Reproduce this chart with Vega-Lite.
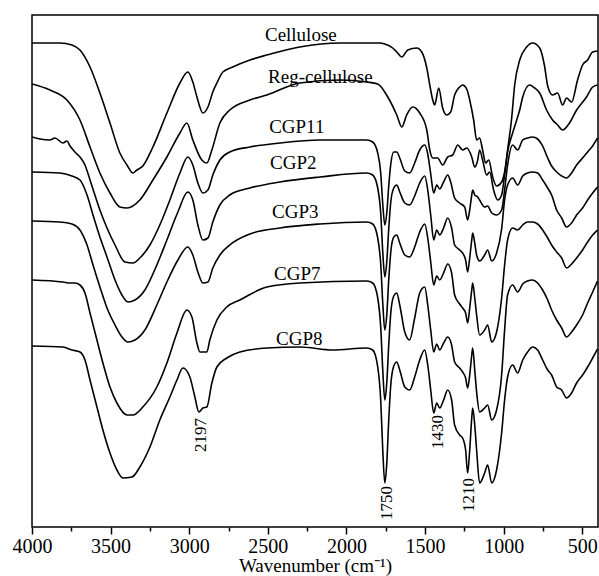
{
"$schema": "https://vega.github.io/schema/vega-lite/v6.json",
"width": 566, "height": 512,
"autosize": {"type": "none"},
"padding": {"left": 32, "top": 15, "right": 1, "bottom": 49},
"background": "white",
"config": {"view": {"stroke": "black", "strokeWidth": 1.5}, "font": "Liberation Serif"},
"datasets": {
"spectra": [
{"s":"Cellulose","w":4000,"t":484},{"s":"Cellulose","w":3822,"t":484},{"s":"Cellulose","w":3746,"t":482},{"s":"Cellulose","w":3695,"t":477},{"s":"Cellulose","w":3631,"t":460},{"s":"Cellulose","w":3568,"t":434},{"s":"Cellulose","w":3504,"t":404},{"s":"Cellulose","w":3441,"t":374},{"s":"Cellulose","w":3396,"t":362},{"s":"Cellulose","w":3358,"t":354},{"s":"Cellulose","w":3333,"t":357},{"s":"Cellulose","w":3295,"t":361},{"s":"Cellulose","w":3231,"t":380},{"s":"Cellulose","w":3142,"t":414},{"s":"Cellulose","w":3059,"t":444},{"s":"Cellulose","w":3009,"t":455},{"s":"Cellulose","w":2977,"t":445},{"s":"Cellulose","w":2951,"t":430},{"s":"Cellulose","w":2913,"t":414},{"s":"Cellulose","w":2881,"t":420},{"s":"Cellulose","w":2850,"t":435},{"s":"Cellulose","w":2824,"t":444},{"s":"Cellulose","w":2786,"t":455},{"s":"Cellulose","w":2723,"t":460},{"s":"Cellulose","w":2614,"t":467},{"s":"Cellulose","w":2506,"t":472},{"s":"Cellulose","w":2297,"t":480},{"s":"Cellulose","w":2042,"t":484},{"s":"Cellulose","w":1788,"t":484},{"s":"Cellulose","w":1756,"t":483},{"s":"Cellulose","w":1706,"t":479},{"s":"Cellulose","w":1680,"t":475},{"s":"Cellulose","w":1648,"t":470},{"s":"Cellulose","w":1610,"t":477},{"s":"Cellulose","w":1553,"t":479},{"s":"Cellulose","w":1521,"t":475},{"s":"Cellulose","w":1489,"t":459},{"s":"Cellulose","w":1470,"t":442},{"s":"Cellulose","w":1451,"t":427},{"s":"Cellulose","w":1439,"t":422},{"s":"Cellulose","w":1413,"t":439},{"s":"Cellulose","w":1388,"t":419},{"s":"Cellulose","w":1362,"t":412},{"s":"Cellulose","w":1337,"t":415},{"s":"Cellulose","w":1312,"t":432},{"s":"Cellulose","w":1280,"t":440},{"s":"Cellulose","w":1261,"t":442},{"s":"Cellulose","w":1235,"t":438},{"s":"Cellulose","w":1216,"t":427},{"s":"Cellulose","w":1191,"t":407},{"s":"Cellulose","w":1172,"t":387},{"s":"Cellulose","w":1153,"t":389},{"s":"Cellulose","w":1134,"t":377},{"s":"Cellulose","w":1115,"t":364},{"s":"Cellulose","w":1095,"t":367},{"s":"Cellulose","w":1070,"t":350},{"s":"Cellulose","w":1045,"t":341},{"s":"Cellulose","w":1013,"t":345},{"s":"Cellulose","w":994,"t":355},{"s":"Cellulose","w":975,"t":377},{"s":"Cellulose","w":949,"t":409},{"s":"Cellulose","w":930,"t":442},{"s":"Cellulose","w":898,"t":467},{"s":"Cellulose","w":854,"t":480},{"s":"Cellulose","w":816,"t":484},{"s":"Cellulose","w":771,"t":479},{"s":"Cellulose","w":740,"t":461},{"s":"Cellulose","w":720,"t":441},{"s":"Cellulose","w":689,"t":432},{"s":"Cellulose","w":657,"t":434},{"s":"Cellulose","w":625,"t":422},{"s":"Cellulose","w":600,"t":429},{"s":"Cellulose","w":568,"t":425},{"s":"Cellulose","w":530,"t":447},{"s":"Cellulose","w":498,"t":462},{"s":"Cellulose","w":466,"t":467},{"s":"Cellulose","w":434,"t":475},{"s":"Cellulose","w":403,"t":476},
{"s":"Reg-cellulose","w":4000,"t":443},{"s":"Reg-cellulose","w":3886,"t":437},{"s":"Reg-cellulose","w":3778,"t":427},{"s":"Reg-cellulose","w":3695,"t":407},{"s":"Reg-cellulose","w":3631,"t":380},{"s":"Reg-cellulose","w":3568,"t":354},{"s":"Reg-cellulose","w":3504,"t":334},{"s":"Reg-cellulose","w":3441,"t":320},{"s":"Reg-cellulose","w":3396,"t":319},{"s":"Reg-cellulose","w":3314,"t":327},{"s":"Reg-cellulose","w":3231,"t":347},{"s":"Reg-cellulose","w":3142,"t":370},{"s":"Reg-cellulose","w":3059,"t":394},{"s":"Reg-cellulose","w":3015,"t":404},{"s":"Reg-cellulose","w":2977,"t":387},{"s":"Reg-cellulose","w":2920,"t":367},{"s":"Reg-cellulose","w":2888,"t":364},{"s":"Reg-cellulose","w":2856,"t":377},{"s":"Reg-cellulose","w":2805,"t":404},{"s":"Reg-cellulose","w":2742,"t":417},{"s":"Reg-cellulose","w":2614,"t":427},{"s":"Reg-cellulose","w":2506,"t":432},{"s":"Reg-cellulose","w":2297,"t":444},{"s":"Reg-cellulose","w":2042,"t":447},{"s":"Reg-cellulose","w":1871,"t":445},{"s":"Reg-cellulose","w":1801,"t":443},{"s":"Reg-cellulose","w":1737,"t":430},{"s":"Reg-cellulose","w":1680,"t":412},{"s":"Reg-cellulose","w":1648,"t":400},{"s":"Reg-cellulose","w":1617,"t":412},{"s":"Reg-cellulose","w":1578,"t":420},{"s":"Reg-cellulose","w":1534,"t":414},{"s":"Reg-cellulose","w":1489,"t":397},{"s":"Reg-cellulose","w":1470,"t":377},{"s":"Reg-cellulose","w":1451,"t":369},{"s":"Reg-cellulose","w":1420,"t":369},{"s":"Reg-cellulose","w":1388,"t":362},{"s":"Reg-cellulose","w":1356,"t":370},{"s":"Reg-cellulose","w":1324,"t":372},{"s":"Reg-cellulose","w":1292,"t":382},{"s":"Reg-cellulose","w":1261,"t":377},{"s":"Reg-cellulose","w":1235,"t":379},{"s":"Reg-cellulose","w":1203,"t":370},{"s":"Reg-cellulose","w":1184,"t":360},{"s":"Reg-cellulose","w":1165,"t":367},{"s":"Reg-cellulose","w":1153,"t":377},{"s":"Reg-cellulose","w":1134,"t":367},{"s":"Reg-cellulose","w":1108,"t":352},{"s":"Reg-cellulose","w":1089,"t":355},{"s":"Reg-cellulose","w":1064,"t":337},{"s":"Reg-cellulose","w":1038,"t":327},{"s":"Reg-cellulose","w":1013,"t":332},{"s":"Reg-cellulose","w":994,"t":352},{"s":"Reg-cellulose","w":975,"t":375},{"s":"Reg-cellulose","w":943,"t":394},{"s":"Reg-cellulose","w":917,"t":407},{"s":"Reg-cellulose","w":898,"t":417},{"s":"Reg-cellulose","w":879,"t":430},{"s":"Reg-cellulose","w":835,"t":442},{"s":"Reg-cellulose","w":803,"t":439},{"s":"Reg-cellulose","w":771,"t":434},{"s":"Reg-cellulose","w":727,"t":417},{"s":"Reg-cellulose","w":689,"t":407},{"s":"Reg-cellulose","w":657,"t":402},{"s":"Reg-cellulose","w":625,"t":397},{"s":"Reg-cellulose","w":581,"t":404},{"s":"Reg-cellulose","w":536,"t":417},{"s":"Reg-cellulose","w":473,"t":430},{"s":"Reg-cellulose","w":434,"t":440},{"s":"Reg-cellulose","w":403,"t":442},
{"s":"CGP11","w":4000,"t":390},{"s":"CGP11","w":3949,"t":388},{"s":"CGP11","w":3886,"t":387},{"s":"CGP11","w":3854,"t":389},{"s":"CGP11","w":3803,"t":384},{"s":"CGP11","w":3778,"t":386},{"s":"CGP11","w":3758,"t":381},{"s":"CGP11","w":3727,"t":375},{"s":"CGP11","w":3695,"t":370},{"s":"CGP11","w":3663,"t":362},{"s":"CGP11","w":3631,"t":347},{"s":"CGP11","w":3600,"t":332},{"s":"CGP11","w":3568,"t":317},{"s":"CGP11","w":3523,"t":299},{"s":"CGP11","w":3472,"t":282},{"s":"CGP11","w":3409,"t":265},{"s":"CGP11","w":3358,"t":264},{"s":"CGP11","w":3314,"t":269},{"s":"CGP11","w":3250,"t":282},{"s":"CGP11","w":3187,"t":302},{"s":"CGP11","w":3123,"t":327},{"s":"CGP11","w":3059,"t":354},{"s":"CGP11","w":3009,"t":370},{"s":"CGP11","w":2977,"t":362},{"s":"CGP11","w":2945,"t":344},{"s":"CGP11","w":2913,"t":334},{"s":"CGP11","w":2881,"t":337},{"s":"CGP11","w":2850,"t":352},{"s":"CGP11","w":2805,"t":367},{"s":"CGP11","w":2742,"t":375},{"s":"CGP11","w":2614,"t":380},{"s":"CGP11","w":2424,"t":384},{"s":"CGP11","w":2170,"t":387},{"s":"CGP11","w":1871,"t":387},{"s":"CGP11","w":1833,"t":385},{"s":"CGP11","w":1801,"t":374},{"s":"CGP11","w":1782,"t":354},{"s":"CGP11","w":1769,"t":323},{"s":"CGP11","w":1756,"t":302},{"s":"CGP11","w":1744,"t":313},{"s":"CGP11","w":1731,"t":341},{"s":"CGP11","w":1718,"t":363},{"s":"CGP11","w":1699,"t":375},{"s":"CGP11","w":1680,"t":375},{"s":"CGP11","w":1661,"t":369},{"s":"CGP11","w":1629,"t":356},{"s":"CGP11","w":1598,"t":354},{"s":"CGP11","w":1566,"t":364},{"s":"CGP11","w":1534,"t":377},{"s":"CGP11","w":1502,"t":382},{"s":"CGP11","w":1483,"t":373},{"s":"CGP11","w":1464,"t":353},{"s":"CGP11","w":1445,"t":334},{"s":"CGP11","w":1426,"t":342},{"s":"CGP11","w":1407,"t":338},{"s":"CGP11","w":1382,"t":345},{"s":"CGP11","w":1356,"t":352},{"s":"CGP11","w":1337,"t":345},{"s":"CGP11","w":1312,"t":329},{"s":"CGP11","w":1280,"t":324},{"s":"CGP11","w":1248,"t":320},{"s":"CGP11","w":1229,"t":307},{"s":"CGP11","w":1216,"t":317},{"s":"CGP11","w":1203,"t":332},{"s":"CGP11","w":1197,"t":337},{"s":"CGP11","w":1184,"t":332},{"s":"CGP11","w":1165,"t":330},{"s":"CGP11","w":1153,"t":327},{"s":"CGP11","w":1121,"t":320},{"s":"CGP11","w":1102,"t":321},{"s":"CGP11","w":1076,"t":314},{"s":"CGP11","w":1045,"t":312},{"s":"CGP11","w":1013,"t":317},{"s":"CGP11","w":994,"t":337},{"s":"CGP11","w":975,"t":362},{"s":"CGP11","w":943,"t":382},{"s":"CGP11","w":911,"t":377},{"s":"CGP11","w":879,"t":387},{"s":"CGP11","w":848,"t":389},{"s":"CGP11","w":816,"t":390},{"s":"CGP11","w":784,"t":388},{"s":"CGP11","w":752,"t":381},{"s":"CGP11","w":720,"t":369},{"s":"CGP11","w":695,"t":361},{"s":"CGP11","w":663,"t":355},{"s":"CGP11","w":631,"t":351},{"s":"CGP11","w":600,"t":349},{"s":"CGP11","w":568,"t":354},{"s":"CGP11","w":536,"t":362},{"s":"CGP11","w":498,"t":369},{"s":"CGP11","w":466,"t":375},{"s":"CGP11","w":434,"t":381},{"s":"CGP11","w":403,"t":389},
{"s":"CGP2","w":4000,"t":355},{"s":"CGP2","w":3822,"t":354},{"s":"CGP2","w":3746,"t":351},{"s":"CGP2","w":3695,"t":347},{"s":"CGP2","w":3650,"t":332},{"s":"CGP2","w":3612,"t":312},{"s":"CGP2","w":3568,"t":290},{"s":"CGP2","w":3523,"t":270},{"s":"CGP2","w":3472,"t":247},{"s":"CGP2","w":3428,"t":232},{"s":"CGP2","w":3390,"t":225},{"s":"CGP2","w":3345,"t":227},{"s":"CGP2","w":3282,"t":237},{"s":"CGP2","w":3206,"t":262},{"s":"CGP2","w":3142,"t":287},{"s":"CGP2","w":3072,"t":315},{"s":"CGP2","w":3009,"t":335},{"s":"CGP2","w":2977,"t":327},{"s":"CGP2","w":2945,"t":302},{"s":"CGP2","w":2913,"t":287},{"s":"CGP2","w":2881,"t":289},{"s":"CGP2","w":2850,"t":305},{"s":"CGP2","w":2805,"t":322},{"s":"CGP2","w":2742,"t":332},{"s":"CGP2","w":2614,"t":339},{"s":"CGP2","w":2424,"t":345},{"s":"CGP2","w":2170,"t":350},{"s":"CGP2","w":1871,"t":354},{"s":"CGP2","w":1833,"t":352},{"s":"CGP2","w":1801,"t":339},{"s":"CGP2","w":1782,"t":314},{"s":"CGP2","w":1769,"t":275},{"s":"CGP2","w":1756,"t":250},{"s":"CGP2","w":1744,"t":264},{"s":"CGP2","w":1731,"t":298},{"s":"CGP2","w":1718,"t":325},{"s":"CGP2","w":1699,"t":339},{"s":"CGP2","w":1680,"t":342},{"s":"CGP2","w":1661,"t":335},{"s":"CGP2","w":1629,"t":324},{"s":"CGP2","w":1598,"t":322},{"s":"CGP2","w":1566,"t":331},{"s":"CGP2","w":1534,"t":344},{"s":"CGP2","w":1502,"t":351},{"s":"CGP2","w":1483,"t":337},{"s":"CGP2","w":1464,"t":312},{"s":"CGP2","w":1445,"t":287},{"s":"CGP2","w":1426,"t":297},{"s":"CGP2","w":1407,"t":292},{"s":"CGP2","w":1382,"t":299},{"s":"CGP2","w":1356,"t":309},{"s":"CGP2","w":1331,"t":299},{"s":"CGP2","w":1312,"t":282},{"s":"CGP2","w":1280,"t":277},{"s":"CGP2","w":1261,"t":274},{"s":"CGP2","w":1242,"t":267},{"s":"CGP2","w":1229,"t":255},{"s":"CGP2","w":1216,"t":269},{"s":"CGP2","w":1203,"t":287},{"s":"CGP2","w":1197,"t":294},{"s":"CGP2","w":1184,"t":284},{"s":"CGP2","w":1172,"t":272},{"s":"CGP2","w":1153,"t":266},{"s":"CGP2","w":1121,"t":272},{"s":"CGP2","w":1102,"t":277},{"s":"CGP2","w":1076,"t":266},{"s":"CGP2","w":1045,"t":274},{"s":"CGP2","w":1013,"t":298},{"s":"CGP2","w":994,"t":327},{"s":"CGP2","w":975,"t":342},{"s":"CGP2","w":943,"t":349},{"s":"CGP2","w":911,"t":342},{"s":"CGP2","w":879,"t":351},{"s":"CGP2","w":848,"t":354},{"s":"CGP2","w":816,"t":355},{"s":"CGP2","w":784,"t":354},{"s":"CGP2","w":752,"t":347},{"s":"CGP2","w":720,"t":339},{"s":"CGP2","w":695,"t":332},{"s":"CGP2","w":663,"t":317},{"s":"CGP2","w":631,"t":309},{"s":"CGP2","w":600,"t":300},{"s":"CGP2","w":568,"t":304},{"s":"CGP2","w":536,"t":312},{"s":"CGP2","w":498,"t":319},{"s":"CGP2","w":466,"t":327},{"s":"CGP2","w":434,"t":334},{"s":"CGP2","w":403,"t":340},
{"s":"CGP3","w":4000,"t":306},{"s":"CGP3","w":3822,"t":305},{"s":"CGP3","w":3746,"t":303},{"s":"CGP3","w":3695,"t":297},{"s":"CGP3","w":3650,"t":282},{"s":"CGP3","w":3612,"t":262},{"s":"CGP3","w":3568,"t":240},{"s":"CGP3","w":3523,"t":219},{"s":"CGP3","w":3472,"t":202},{"s":"CGP3","w":3428,"t":190},{"s":"CGP3","w":3390,"t":185},{"s":"CGP3","w":3345,"t":187},{"s":"CGP3","w":3282,"t":197},{"s":"CGP3","w":3206,"t":222},{"s":"CGP3","w":3142,"t":245},{"s":"CGP3","w":3072,"t":267},{"s":"CGP3","w":3009,"t":280},{"s":"CGP3","w":2977,"t":272},{"s":"CGP3","w":2945,"t":255},{"s":"CGP3","w":2913,"t":244},{"s":"CGP3","w":2881,"t":245},{"s":"CGP3","w":2850,"t":259},{"s":"CGP3","w":2805,"t":272},{"s":"CGP3","w":2742,"t":282},{"s":"CGP3","w":2614,"t":293},{"s":"CGP3","w":2424,"t":299},{"s":"CGP3","w":2170,"t":303},{"s":"CGP3","w":1871,"t":305},{"s":"CGP3","w":1833,"t":303},{"s":"CGP3","w":1801,"t":289},{"s":"CGP3","w":1782,"t":263},{"s":"CGP3","w":1769,"t":224},{"s":"CGP3","w":1756,"t":197},{"s":"CGP3","w":1744,"t":211},{"s":"CGP3","w":1731,"t":247},{"s":"CGP3","w":1718,"t":275},{"s":"CGP3","w":1699,"t":290},{"s":"CGP3","w":1680,"t":292},{"s":"CGP3","w":1661,"t":284},{"s":"CGP3","w":1629,"t":272},{"s":"CGP3","w":1598,"t":270},{"s":"CGP3","w":1566,"t":280},{"s":"CGP3","w":1534,"t":295},{"s":"CGP3","w":1502,"t":303},{"s":"CGP3","w":1483,"t":289},{"s":"CGP3","w":1464,"t":265},{"s":"CGP3","w":1445,"t":242},{"s":"CGP3","w":1426,"t":251},{"s":"CGP3","w":1407,"t":247},{"s":"CGP3","w":1382,"t":254},{"s":"CGP3","w":1356,"t":263},{"s":"CGP3","w":1331,"t":254},{"s":"CGP3","w":1312,"t":232},{"s":"CGP3","w":1280,"t":223},{"s":"CGP3","w":1261,"t":219},{"s":"CGP3","w":1242,"t":214},{"s":"CGP3","w":1229,"t":204},{"s":"CGP3","w":1216,"t":219},{"s":"CGP3","w":1203,"t":237},{"s":"CGP3","w":1197,"t":244},{"s":"CGP3","w":1184,"t":229},{"s":"CGP3","w":1172,"t":212},{"s":"CGP3","w":1153,"t":192},{"s":"CGP3","w":1121,"t":197},{"s":"CGP3","w":1102,"t":202},{"s":"CGP3","w":1076,"t":185},{"s":"CGP3","w":1045,"t":195},{"s":"CGP3","w":1013,"t":229},{"s":"CGP3","w":994,"t":262},{"s":"CGP3","w":975,"t":287},{"s":"CGP3","w":943,"t":299},{"s":"CGP3","w":911,"t":297},{"s":"CGP3","w":879,"t":302},{"s":"CGP3","w":848,"t":305},{"s":"CGP3","w":816,"t":305},{"s":"CGP3","w":784,"t":303},{"s":"CGP3","w":752,"t":297},{"s":"CGP3","w":720,"t":289},{"s":"CGP3","w":695,"t":282},{"s":"CGP3","w":663,"t":275},{"s":"CGP3","w":631,"t":269},{"s":"CGP3","w":600,"t":259},{"s":"CGP3","w":568,"t":263},{"s":"CGP3","w":536,"t":269},{"s":"CGP3","w":498,"t":277},{"s":"CGP3","w":466,"t":285},{"s":"CGP3","w":434,"t":292},{"s":"CGP3","w":403,"t":297},
{"s":"CGP7","w":4000,"t":247},{"s":"CGP7","w":3803,"t":245},{"s":"CGP7","w":3758,"t":244},{"s":"CGP7","w":3727,"t":244},{"s":"CGP7","w":3695,"t":242},{"s":"CGP7","w":3663,"t":234},{"s":"CGP7","w":3631,"t":214},{"s":"CGP7","w":3587,"t":187},{"s":"CGP7","w":3549,"t":164},{"s":"CGP7","w":3504,"t":140},{"s":"CGP7","w":3460,"t":124},{"s":"CGP7","w":3396,"t":112},{"s":"CGP7","w":3358,"t":112},{"s":"CGP7","w":3295,"t":120},{"s":"CGP7","w":3206,"t":140},{"s":"CGP7","w":3142,"t":164},{"s":"CGP7","w":3078,"t":194},{"s":"CGP7","w":3015,"t":217},{"s":"CGP7","w":2983,"t":210},{"s":"CGP7","w":2951,"t":184},{"s":"CGP7","w":2932,"t":175},{"s":"CGP7","w":2888,"t":175},{"s":"CGP7","w":2869,"t":187},{"s":"CGP7","w":2824,"t":207},{"s":"CGP7","w":2761,"t":220},{"s":"CGP7","w":2678,"t":227},{"s":"CGP7","w":2506,"t":240},{"s":"CGP7","w":2297,"t":244},{"s":"CGP7","w":1871,"t":246},{"s":"CGP7","w":1833,"t":244},{"s":"CGP7","w":1801,"t":229},{"s":"CGP7","w":1782,"t":200},{"s":"CGP7","w":1769,"t":157},{"s":"CGP7","w":1756,"t":127},{"s":"CGP7","w":1744,"t":143},{"s":"CGP7","w":1731,"t":182},{"s":"CGP7","w":1718,"t":214},{"s":"CGP7","w":1699,"t":231},{"s":"CGP7","w":1680,"t":234},{"s":"CGP7","w":1661,"t":222},{"s":"CGP7","w":1629,"t":195},{"s":"CGP7","w":1598,"t":187},{"s":"CGP7","w":1566,"t":209},{"s":"CGP7","w":1534,"t":234},{"s":"CGP7","w":1502,"t":240},{"s":"CGP7","w":1483,"t":222},{"s":"CGP7","w":1464,"t":197},{"s":"CGP7","w":1445,"t":175},{"s":"CGP7","w":1426,"t":183},{"s":"CGP7","w":1407,"t":177},{"s":"CGP7","w":1382,"t":184},{"s":"CGP7","w":1356,"t":190},{"s":"CGP7","w":1331,"t":182},{"s":"CGP7","w":1312,"t":165},{"s":"CGP7","w":1280,"t":159},{"s":"CGP7","w":1261,"t":155},{"s":"CGP7","w":1242,"t":149},{"s":"CGP7","w":1229,"t":139},{"s":"CGP7","w":1216,"t":152},{"s":"CGP7","w":1203,"t":172},{"s":"CGP7","w":1197,"t":179},{"s":"CGP7","w":1184,"t":157},{"s":"CGP7","w":1172,"t":135},{"s":"CGP7","w":1153,"t":115},{"s":"CGP7","w":1121,"t":119},{"s":"CGP7","w":1102,"t":122},{"s":"CGP7","w":1076,"t":107},{"s":"CGP7","w":1045,"t":117},{"s":"CGP7","w":1013,"t":152},{"s":"CGP7","w":994,"t":197},{"s":"CGP7","w":975,"t":232},{"s":"CGP7","w":943,"t":242},{"s":"CGP7","w":911,"t":235},{"s":"CGP7","w":879,"t":243},{"s":"CGP7","w":848,"t":246},{"s":"CGP7","w":816,"t":247},{"s":"CGP7","w":784,"t":244},{"s":"CGP7","w":752,"t":237},{"s":"CGP7","w":720,"t":227},{"s":"CGP7","w":695,"t":217},{"s":"CGP7","w":663,"t":207},{"s":"CGP7","w":631,"t":199},{"s":"CGP7","w":600,"t":190},{"s":"CGP7","w":568,"t":195},{"s":"CGP7","w":536,"t":202},{"s":"CGP7","w":498,"t":212},{"s":"CGP7","w":466,"t":224},{"s":"CGP7","w":434,"t":235},{"s":"CGP7","w":403,"t":246},
{"s":"CGP8","w":4000,"t":181},{"s":"CGP8","w":3803,"t":180},{"s":"CGP8","w":3746,"t":177},{"s":"CGP8","w":3695,"t":175},{"s":"CGP8","w":3663,"t":167},{"s":"CGP8","w":3631,"t":147},{"s":"CGP8","w":3587,"t":120},{"s":"CGP8","w":3549,"t":97},{"s":"CGP8","w":3504,"t":74},{"s":"CGP8","w":3460,"t":57},{"s":"CGP8","w":3422,"t":49},{"s":"CGP8","w":3364,"t":50},{"s":"CGP8","w":3314,"t":60},{"s":"CGP8","w":3250,"t":80},{"s":"CGP8","w":3187,"t":107},{"s":"CGP8","w":3123,"t":130},{"s":"CGP8","w":3078,"t":147},{"s":"CGP8","w":3040,"t":159},{"s":"CGP8","w":2996,"t":150},{"s":"CGP8","w":2964,"t":130},{"s":"CGP8","w":2939,"t":115},{"s":"CGP8","w":2913,"t":119},{"s":"CGP8","w":2888,"t":120},{"s":"CGP8","w":2856,"t":144},{"s":"CGP8","w":2824,"t":160},{"s":"CGP8","w":2761,"t":169},{"s":"CGP8","w":2678,"t":175},{"s":"CGP8","w":2506,"t":179},{"s":"CGP8","w":2297,"t":180},{"s":"CGP8","w":2087,"t":177},{"s":"CGP8","w":1871,"t":179},{"s":"CGP8","w":1833,"t":177},{"s":"CGP8","w":1801,"t":160},{"s":"CGP8","w":1782,"t":127},{"s":"CGP8","w":1769,"t":77},{"s":"CGP8","w":1756,"t":44},{"s":"CGP8","w":1744,"t":62},{"s":"CGP8","w":1731,"t":107},{"s":"CGP8","w":1718,"t":142},{"s":"CGP8","w":1699,"t":161},{"s":"CGP8","w":1680,"t":165},{"s":"CGP8","w":1661,"t":157},{"s":"CGP8","w":1629,"t":140},{"s":"CGP8","w":1598,"t":137},{"s":"CGP8","w":1566,"t":150},{"s":"CGP8","w":1534,"t":167},{"s":"CGP8","w":1502,"t":177},{"s":"CGP8","w":1483,"t":162},{"s":"CGP8","w":1464,"t":137},{"s":"CGP8","w":1445,"t":114},{"s":"CGP8","w":1426,"t":124},{"s":"CGP8","w":1407,"t":119},{"s":"CGP8","w":1382,"t":127},{"s":"CGP8","w":1356,"t":137},{"s":"CGP8","w":1331,"t":127},{"s":"CGP8","w":1312,"t":102},{"s":"CGP8","w":1280,"t":92},{"s":"CGP8","w":1261,"t":89},{"s":"CGP8","w":1242,"t":77},{"s":"CGP8","w":1229,"t":54},{"s":"CGP8","w":1216,"t":77},{"s":"CGP8","w":1203,"t":109},{"s":"CGP8","w":1197,"t":119},{"s":"CGP8","w":1184,"t":102},{"s":"CGP8","w":1172,"t":77},{"s":"CGP8","w":1153,"t":44},{"s":"CGP8","w":1121,"t":54},{"s":"CGP8","w":1102,"t":62},{"s":"CGP8","w":1076,"t":44},{"s":"CGP8","w":1045,"t":57},{"s":"CGP8","w":1013,"t":94},{"s":"CGP8","w":994,"t":127},{"s":"CGP8","w":975,"t":150},{"s":"CGP8","w":943,"t":162},{"s":"CGP8","w":911,"t":154},{"s":"CGP8","w":879,"t":167},{"s":"CGP8","w":848,"t":175},{"s":"CGP8","w":816,"t":180},{"s":"CGP8","w":784,"t":177},{"s":"CGP8","w":752,"t":167},{"s":"CGP8","w":720,"t":157},{"s":"CGP8","w":695,"t":152},{"s":"CGP8","w":663,"t":140},{"s":"CGP8","w":631,"t":137},{"s":"CGP8","w":600,"t":129},{"s":"CGP8","w":568,"t":134},{"s":"CGP8","w":536,"t":144},{"s":"CGP8","w":498,"t":152},{"s":"CGP8","w":466,"t":160},{"s":"CGP8","w":434,"t":169},{"s":"CGP8","w":403,"t":178}
],
"names": [
{"label":"Cellulose","w":2290,"t":492},
{"label":"Reg-cellulose","w":2166,"t":450},
{"label":"CGP11","w":2316,"t":400},
{"label":"CGP2","w":2338,"t":364},
{"label":"CGP3","w":2325,"t":315},
{"label":"CGP7","w":2313,"t":253},
{"label":"CGP8","w":2300,"t":188}
],
"peaks": [
{"label":"2197","w":2923,"t":92},
{"label":"1750","w":1744,"t":24},
{"label":"1430","w":1416,"t":95},
{"label":"1210","w":1219,"t":32}
]
},
"layer": [
{
"data": {"name": "spectra"},
"mark": {"type": "line", "color": "black", "strokeWidth": 1.6, "interpolate": "monotone", "clip": true},
"encoding": {
"x": {"field": "w", "type": "quantitative",
 "scale": {"domain": [400, 4000], "reverse": true, "nice": false, "zero": false},
 "axis": {"values": [4000,3750,3500,3250,3000,2750,2500,2250,2000,1750,1500,1250,1000,750,500],
  "format": "d",
  "labelExpr": "datum.value % 500 === 0 ? datum.label : ''",
  "tickSize": {"condition": {"test": "datum.value % 500 === 0", "value": 7}, "value": 4},
  "tickColor": "black", "tickWidth": 1.5, "domain": false, "grid": false,
  "labelFont": "Liberation Serif", "labelFontSize": 20, "labelColor": "black", "labelPadding": 2,
  "labelFlush": false, "labelOverlap": false,
  "title": "Wavenumber (cm⁻¹)", "titleFont": "Liberation Serif", "titleFontSize": 19,
  "titleFontWeight": "normal", "titleColor": "black", "titlePadding": 0}},
"y": {"field": "t", "type": "quantitative",
 "scale": {"domain": [0, 512], "nice": false, "zero": false}, "axis": null},
"detail": {"field": "s", "type": "nominal"}
}
},
{
"data": {"name": "names"},
"mark": {"type": "text", "font": "Liberation Serif", "fontSize": 19, "color": "black", "align": "center", "baseline": "middle"},
"encoding": {
"x": {"field": "w", "type": "quantitative"},
"y": {"field": "t", "type": "quantitative"},
"text": {"field": "label", "type": "nominal"}
}
},
{
"data": {"name": "peaks"},
"mark": {"type": "text", "font": "Liberation Serif", "fontSize": 17, "color": "black", "align": "center", "baseline": "middle", "angle": 270},
"encoding": {
"x": {"field": "w", "type": "quantitative"},
"y": {"field": "t", "type": "quantitative"},
"text": {"field": "label", "type": "nominal"}
}
}
]
}
